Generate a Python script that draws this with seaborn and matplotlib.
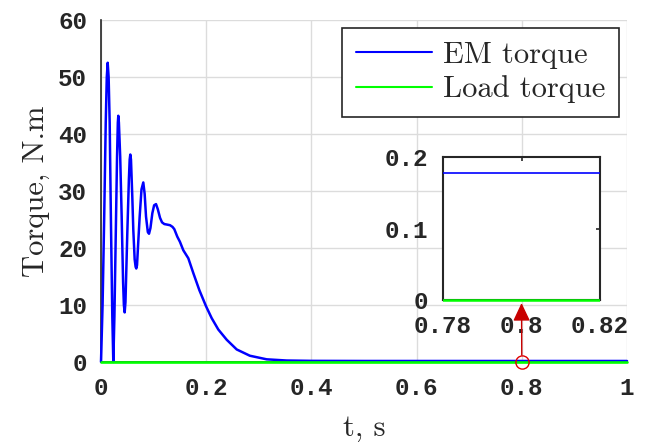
import matplotlib
matplotlib.use("Agg")
import matplotlib.pyplot as plt
import seaborn as sns
import pandas as pd
from matplotlib.transforms import Bbox, TransformedBbox

# ---------------- data ----------------
t_em = [0, 0.003, 0.006, 0.009, 0.011, 0.0127, 0.0145, 0.0165, 0.019, 0.0215, 0.0234,
        0.0255, 0.028, 0.0305, 0.032, 0.0329, 0.034, 0.0365, 0.0393, 0.042, 0.0435, 0.045,
        0.0465, 0.05, 0.053, 0.0545, 0.0557, 0.057, 0.0595, 0.0614, 0.064, 0.0658, 0.0671,
        0.0685, 0.0705, 0.0735, 0.077, 0.0804, 0.083, 0.0856, 0.089, 0.0913, 0.094, 0.0976,
        0.101, 0.1046, 0.108, 0.1122, 0.116, 0.1204, 0.126, 0.1312, 0.136, 0.1394, 0.145,
        0.150, 0.1565, 0.166, 0.1755, 0.187, 0.1996, 0.2104, 0.223, 0.239, 0.258, 0.283,
        0.315, 0.353, 0.4, 0.5, 0.6, 1.0]
em_torque = [0, 10, 25, 42, 50, 52.5, 50, 42, 24, 8, 0,
             8, 22, 36, 42, 43.2, 42, 36, 25.5, 14, 10, 8.7,
             10.5, 22.6, 32, 35.5, 36.4, 35.5, 29, 23.2, 18, 16.7, 16.4,
             17, 20.5, 25.5, 30.3, 31.5, 29.5, 25.5, 22.8, 22.5, 23.5, 26.1,
             27.5, 27.7, 26.8, 25.3, 24.5, 24.2, 24.1, 24.0, 23.7, 23.3, 22.0,
             21.1, 19.6, 18.2, 15.6, 12.6, 9.8, 7.7, 5.7, 3.9, 2.2, 1.1,
             0.47, 0.26, 0.2, 0.18, 0.178, 0.178]
t_load = [0, 1.0]
load_torque = [0, 0]

x_ticks = [0, 0.2, 0.4, 0.6, 0.8, 1.0]
x_ticklabels = ["0", "0.2", "0.4", "0.6", "0.8", "1"]
y_ticks = [0, 10, 20, 30, 40, 50, 60]
y_ticklabels = ["0", "10", "20", "30", "40", "50", "60"]
inset_x_ticks = [0.78, 0.8, 0.82]
inset_x_ticklabels = ["0.78", "0.8", "0.82"]
inset_y_ticks = [0, 0.1, 0.2]
inset_y_ticklabels = ["0", "0.1", "0.2"]
marker_t = [0.8]
marker_v = [0.0]

df_em = pd.DataFrame({"t": t_em, "T": em_torque})
df_load = pd.DataFrame({"t": t_load, "T": load_torque})

# ---------------- style ----------------
sns.set_style("white")
plt.rcParams["font.family"] = ["cmr10", "DejaVu Serif"]
plt.rcParams["axes.formatter.use_mathtext"] = True
TICKFONT = dict(family=["Liberation Mono", "DejaVu Sans Mono"], weight="bold", size=17.5)
LABELSIZE = 22
BLUE = "#0000ff"
GREEN = "#00ff00"
GRID = "#dcdcdc"

fig = plt.figure(figsize=(6.45, 4.42), dpi=100)
ax = fig.add_axes([101 / 645, 1 - 362 / 442, 526 / 645, 342 / 442])

sns.lineplot(data=df_em, x="t", y="T", ax=ax, color=BLUE, lw=1.8, label="EM torque",
             estimator=None, sort=False, zorder=3)
sns.lineplot(data=df_load, x="t", y="T", ax=ax, color=GREEN, lw=1.9, label="Load torque",
             estimator=None, sort=False, zorder=3)
for ln in ax.lines:
    ln.set_clip_on(False)
    ln.set_solid_joinstyle("round")

ax.set_xlim(0, 1)
ax.set_ylim(0, 60)
ax.set_xticks(x_ticks)
ax.set_xticklabels(x_ticklabels, **TICKFONT)
ax.set_yticks(y_ticks)
ax.set_yticklabels(y_ticklabels, **TICKFONT)
ax.tick_params(direction="in", length=4, width=1.2, color="#262626", pad=11,
               labelcolor="#262626")
ax.tick_params(axis="y", pad=10)
ax.grid(True, color=GRID, lw=1)
for s in ["top", "right"]:
    ax.spines[s].set_visible(False)
for s in ["left", "bottom"]:
    ax.spines[s].set_color("#262626")
    ax.spines[s].set_linewidth(1.2)
ax.set_xlabel("t, s", fontsize=LABELSIZE, labelpad=10)
ax.set_ylabel("Torque, N.m", fontsize=LABELSIZE, labelpad=6)

leg = ax.legend(loc="upper right", bbox_to_anchor=(619 / 645, 1 - 28 / 442),
                bbox_transform=fig.transFigure, borderaxespad=0, fontsize=LABELSIZE,
                frameon=True, fancybox=False, framealpha=1, edgecolor="#262626",
                handlelength=2.5, handletextpad=0.35, labelspacing=0.2,
                borderpad=0.45)
leg.get_frame().set_linewidth(1.2)
for h in leg.get_lines():
    h.set_linewidth(1.5)

# marker at the zoom point
ax.plot(marker_t, marker_v, "o", mfc="none", mec="#e00000", ms=9.5, mew=1.0,
        clip_on=False, zorder=5)

# ---------------- inset ----------------
axins = fig.add_axes([443 / 645, 1 - 300 / 442, 157 / 645, 143 / 442])
axins.set_facecolor("white")
sns.lineplot(data=df_em, x="t", y="T", ax=axins, color=BLUE, lw=1.2, legend=False,
             estimator=None, sort=False, zorder=3)
sns.lineplot(data=df_load, x="t", y="T", ax=axins, color=GREEN, lw=1.8, legend=False,
             estimator=None, sort=False, zorder=3)
axins.set_xlim(0.78, 0.82)
axins.set_ylim(0, 0.2)
cb = TransformedBbox(Bbox([[0, -0.03], [1, 1.03]]), axins.transAxes)
for ln in axins.lines:
    ln.set_clip_path(None)
    ln.set_clip_box(cb)
axins.set_xticks(inset_x_ticks)
axins.set_xticklabels(inset_x_ticklabels, **TICKFONT)
axins.set_yticks(inset_y_ticks)
axins.set_yticklabels(inset_y_ticklabels, **TICKFONT)
axins.tick_params(direction="in", length=3, width=1.2, color="#262626",
                  top=True, right=True, pad=11, labelcolor="#262626")
axins.tick_params(axis="y", pad=11)
axins.set_xlabel("")
axins.set_ylabel("")
axins.grid(False)
for s in axins.spines.values():
    s.set_visible(True)
    s.set_color("#262626")
    s.set_linewidth(1.5)

arrow = axins.annotate("", xy=(0.8, 0), xycoords=axins.transData,
                       xytext=(0.8, 0), textcoords=ax.transData,
                       arrowprops=dict(arrowstyle="-|>,head_length=0.55,head_width=0.26",
                                       mutation_scale=20, color="#c80000", lw=1.0,
                                       shrinkA=5, shrinkB=2.2),
                       annotation_clip=False, zorder=10)

fig.savefig("out.png", dpi=100)
